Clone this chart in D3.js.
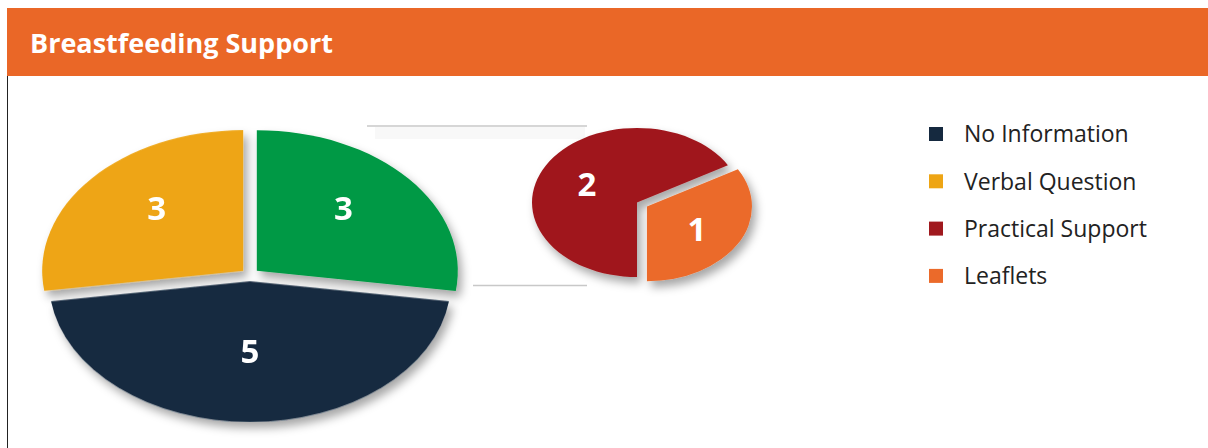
<!DOCTYPE html>
<html lang="en">
<head>
    <meta charset="UTF-8">
    <title>Breastfeeding Support</title>
    <script src="https://d3js.org/d3.v7.min.js"></script>
    <style>
        body, html { width: 100%; height: 100%; margin: 0; background: #fff; }
        svg { display: block; }
        text { font-family: "Open Sans", sans-serif; }
        .title { font-size: 27px; font-weight: bold; fill: #fff; }
        .value { font-size: 33px; font-weight: bold; fill: #fff; }
        .legend text { font-size: 23px; fill: #222; }
    </style>
</head>
<body>
<script>
    // categories and values
    const categories = ["No Information", "Verbal Question", "Practical Support", "Leaflets"];
    const colors = ["#15293f", "#eea514", "#a0191e", "#eb6a2a"];
    // main pie: the "other" slice is the sum of the secondary pie
    const mainKeys = ["Other", "No Information", "Verbal Question"];
    const mainValues = [3, 5, 3];
    const otherColor = "#009944";
    // secondary pie (breakdown of "Other")
    const subKeys = ["Leaflets", "Practical Support"];
    const subValues = [1, 2];

    const width = 1208, height = 448;
    const svg = d3.select("body").append("svg")
        .attr("width", width)
        .attr("height", height);

    const defs = svg.append("defs");
    defs.append("filter")
        .attr("id", "shadow")
        .attr("x", "-20%").attr("y", "-20%")
        .attr("width", "140%").attr("height", "150%")
        .append("feDropShadow")
        .attr("dx", 4).attr("dy", 6)
        .attr("stdDeviation", 5)
        .attr("flood-color", "#000")
        .attr("flood-opacity", 0.35);

    // header
    svg.append("rect")
        .attr("x", 7).attr("y", 8)
        .attr("width", width - 7).attr("height", 68)
        .attr("fill", "#ea6727");
    svg.append("line")
        .attr("x1", 7.5).attr("x2", 7.5)
        .attr("y1", 76).attr("y2", height)
        .attr("stroke", "#222").attr("stroke-width", 1);
    svg.append("text")
        .attr("class", "title")
        .attr("x", 30).attr("y", 53)
        .text("Breastfeeding Support");

    const color = d3.scaleOrdinal()
        .domain(categories.concat(["Other"]))
        .range(colors.concat([otherColor]));

    // connector lines between the two pies
    const conn = svg.append("g");
    conn.append("rect")
        .attr("x", 375).attr("y", 127).attr("width", 210).attr("height", 12)
        .attr("fill", "#f8f8f8");
    conn.append("line")
        .attr("x1", 367).attr("x2", 587).attr("y1", 126).attr("y2", 126)
        .attr("stroke", "#c8c8c8").attr("stroke-width", 1.5);
    conn.append("line")
        .attr("x1", 473).attr("x2", 587).attr("y1", 285.5).attr("y2", 285.5)
        .attr("stroke", "#c8c8c8").attr("stroke-width", 1.5);

    function drawPie(keys, values, opts) {
        const pie = d3.pie().sort(null)
            .startAngle(opts.start)
            .endAngle(opts.start + 2 * Math.PI);
        const arcs = pie(values).map((a, i) => Object.assign(a, { key: keys[i] }));
        const arc = d3.arc().innerRadius(0).outerRadius(opts.r);

        const outer = svg.append("g").attr("filter", "url(#shadow)");
        const g = outer.append("g")
            .attr("transform", `translate(${opts.cx},${opts.cy}) scale(1,${opts.sy})`);

        const off = (d) => {
            const e = opts.explode(d);
            const m = (d.startAngle + d.endAngle) / 2;
            return [Math.sin(m) * e, -Math.cos(m) * e];
        };

        g.selectAll("path")
            .data(arcs)
            .join("path")
            .attr("transform", d => `translate(${off(d)})`)
            .attr("d", arc)
            .attr("fill", d => color(d.key));

        const lr = opts.r * opts.lf;
        svg.append("g").selectAll("text")
            .data(arcs)
            .join("text")
            .attr("class", "value")
            .attr("text-anchor", "middle")
            .attr("dy", "0.36em")
            .attr("x", d => {
                const m = (d.startAngle + d.endAngle) / 2;
                return opts.cx + off(d)[0] + Math.sin(m) * lr;
            })
            .attr("y", d => {
                const m = (d.startAngle + d.endAngle) / 2;
                return opts.cy + (off(d)[1] - Math.cos(m) * lr) * opts.sy + opts.ly;
            })
            .text(d => d.value);
    }

    drawPie(mainKeys, mainValues, {
        cx: 250, cy: 275, r: 201, sy: 0.7, start: 0, lf: 0.57, ly: -10,
        explode: () => 9
    });
    drawPie(subKeys, subValues, {
        cx: 637, cy: 202.5, r: 105, sy: 0.71, start: Math.PI / 3, lf: 0.55, ly: 2,
        explode: d => d.index === 0 ? 11.5 : 0
    });

    // legend
    const legend = svg.append("g").attr("class", "legend");
    const rows = legend.selectAll("g")
        .data(categories)
        .join("g")
        .attr("transform", (d, i) => `translate(929,${134 + i * 47.3})`);
    rows.append("rect")
        .attr("x", 0).attr("y", -7)
        .attr("width", 14).attr("height", 14)
        .attr("fill", d => color(d));
    rows.append("text")
        .attr("x", 35).attr("dy", "0.36em")
        .text(d => d);
</script>
</body>
</html>
